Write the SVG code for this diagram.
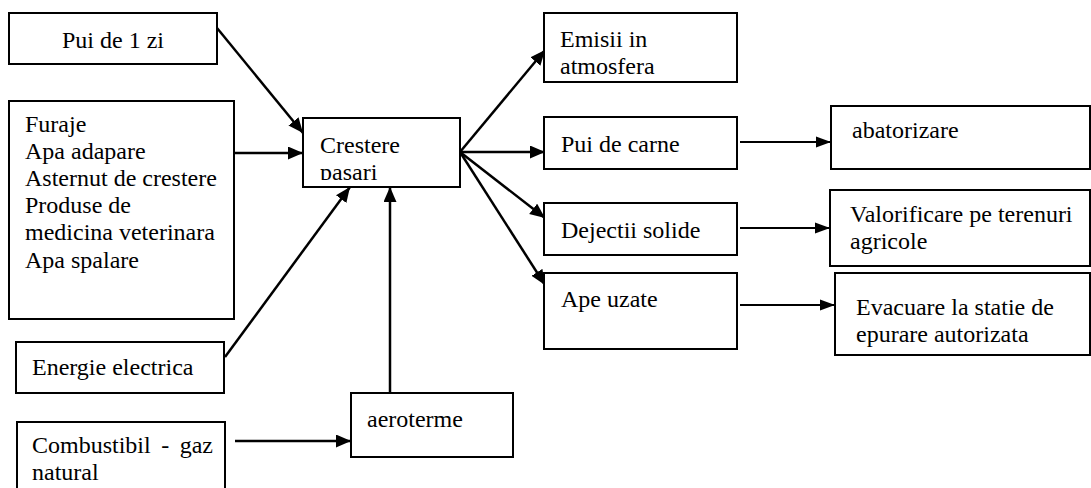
<svg xmlns="http://www.w3.org/2000/svg" width="1091" height="488" viewBox="0 0 1091 488">
<style>
  .box { fill: #fff; stroke: #000; stroke-width: 2; }
  .t { font-family: 'Liberation Serif', 'DejaVu Serif', serif; font-size: 24px; fill: #000; }
  .c { stroke: #000; stroke-width: 2.5; fill: none; marker-end: url(#ah); }
  .cs { stroke: #000; stroke-width: 2; fill: none; marker-end: url(#ah2); }
</style>
<defs>
  <marker id="ah" markerUnits="userSpaceOnUse" markerWidth="16" markerHeight="14" refX="15" refY="6.5" orient="auto">
    <path d="M0,0 L15,6.5 L0,13 z" fill="#000"/>
  </marker>
  <marker id="ah2" markerUnits="userSpaceOnUse" markerWidth="16" markerHeight="14" refX="15" refY="6.5" orient="auto">
    <path d="M0,1 L15,6.5 L0,12 z" fill="#000"/>
  </marker>
  <clipPath id="clipC"><rect x="303" y="118" width="157" height="62"/></clipPath>
</defs>
<rect width="1091" height="488" fill="#fff"/>

<g id="connectors">
  <line class="c" x1="217" y1="28" x2="303" y2="133"/>
  <line class="c" x1="234" y1="153" x2="303" y2="153"/>
  <line class="c" x1="225" y1="357" x2="350" y2="187"/>
  <line class="c" x1="390" y1="393" x2="390" y2="187"/>
  <line class="c" x1="235" y1="441" x2="351" y2="441"/>
  <line class="c" x1="460" y1="152" x2="545" y2="50"/>
  <line class="c" x1="460" y1="152" x2="545" y2="152"/>
  <line class="c" x1="460" y1="152" x2="545" y2="218"/>
  <line class="c" x1="460" y1="152" x2="545" y2="285"/>
  <line class="cs" x1="740" y1="142" x2="831" y2="142"/>
  <line class="cs" x1="740" y1="228" x2="830" y2="228"/>
  <line class="cs" x1="740" y1="305" x2="835" y2="305"/>
</g>

<g font-family="Liberation Serif, DejaVu Serif, serif">
<g id="pui1zi">
  <rect class="box" x="9" y="13" width="208" height="51"/>
  <text class="t" x="62" y="48">Pui de 1 zi</text>
</g>
<g id="inputs">
  <rect class="box" x="9" y="101" width="225" height="218"/>
  <text class="t" x="25" y="132">Furaje</text>
  <text class="t" x="25" y="159">Apa adapare</text>
  <text class="t" x="25" y="186">Asternut de crestere</text>
  <text class="t" x="25" y="213">Produse de</text>
  <text class="t" x="25" y="240">medicina veterinara</text>
  <text class="t" x="25" y="268">Apa spalare</text>
</g>
<g id="energie">
  <rect class="box" x="16" y="342" width="208" height="51"/>
  <text class="t" x="32" y="375">Energie electrica</text>
</g>
<g id="combustibil">
  <rect class="box" x="17" y="422" width="208" height="70"/>
  <text class="t" x="32" y="453" word-spacing="4.5">Combustibil - gaz</text>
  <text class="t" x="32" y="480">natural</text>
</g>
<g id="crestere">
  <rect class="box" x="303" y="118" width="157" height="69"/>
  <g clip-path="url(#clipC)">
    <text class="t" x="320" y="153">Crestere</text>
    <text class="t" x="320" y="180">pasari</text>
  </g>
</g>
<g id="aeroterme">
  <rect class="box" x="351" y="393" width="162" height="64"/>
  <text class="t" x="367" y="427">aeroterme</text>
</g>
<g id="emisii">
  <rect class="box" x="544" y="13" width="193" height="69"/>
  <text class="t" x="560" y="47">Emisii in</text>
  <text class="t" x="560" y="74">atmosfera</text>
</g>
<g id="puicarne">
  <rect class="box" x="544" y="117" width="193" height="52"/>
  <text class="t" x="561" y="152">Pui de carne</text>
</g>
<g id="dejectii">
  <rect class="box" x="544" y="203" width="193" height="52"/>
  <text class="t" x="561" y="238">Dejectii solide</text>
</g>
<g id="apeuzate">
  <rect class="box" x="544" y="273" width="193" height="76"/>
  <text class="t" x="561" y="307">Ape uzate</text>
</g>
<g id="abatorizare">
  <rect class="box" x="831" y="106" width="259" height="63"/>
  <text class="t" x="852" y="138">abatorizare</text>
</g>
<g id="valorificare">
  <rect class="box" x="830" y="190" width="260" height="76"/>
  <text class="t" x="850" y="222">Valorificare pe terenuri</text>
  <text class="t" x="850" y="249">agricole</text>
</g>
<g id="evacuare">
  <rect class="box" x="835" y="273" width="255" height="82"/>
  <text class="t" x="856" y="315">Evacuare la statie de</text>
  <text class="t" x="856" y="342">epurare autorizata</text>
</g>
</g>
</svg>
